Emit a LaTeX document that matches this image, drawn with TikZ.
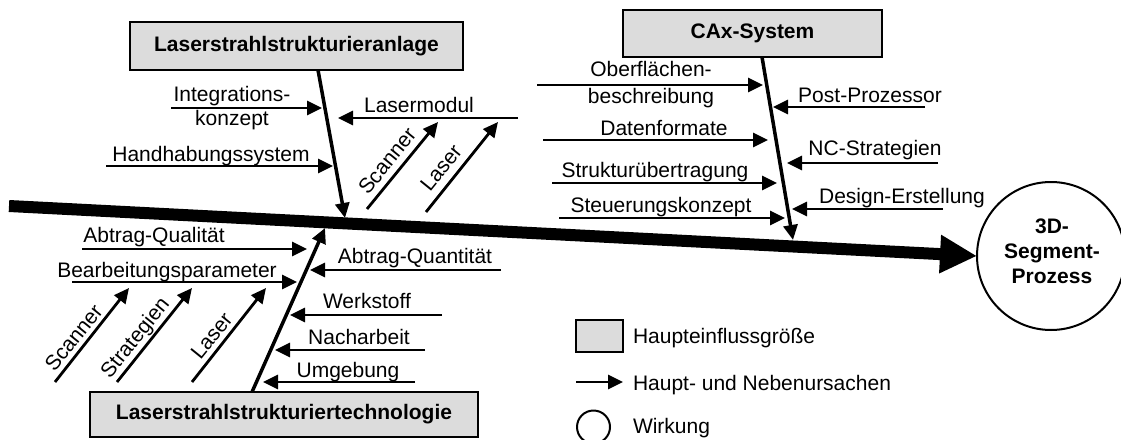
\documentclass[tikz,border=0pt]{standalone}
\usepackage{fontspec}
\setmainfont{Liberation Sans}
\usetikzlibrary{arrows.meta}
\definecolor{boxgray}{RGB}{220,220,220}
\begin{document}
\begin{tikzpicture}[x=1pt,y=-1pt,
  every node/.style={inner sep=0pt, outer sep=0pt, font=\fontsize{21}{24}\selectfont},
  lbl/.style={anchor=base},
  hbox/.style={draw, line width=2pt, fill=boxgray, font=\fontsize{21}{24}\selectfont\bfseries},
  spine/.style={line width=12pt, -{Triangle[length=37pt,width=36pt]}},
  bone/.style={line width=3.5pt, -{Triangle[length=15pt,width=14pt]}},
  twig/.style={line width=2.8pt, -{Triangle[length=15pt,width=14pt]}},
]
\useasboundingbox (0,0) rectangle (1121,439);

% effect
\node[draw, circle, line width=2pt, minimum size=148pt] (eff) at (1051,256) {};
\node[align=center, font=\fontsize{21}{25}\selectfont\bfseries] (efftext) at (1052,251) {3D-\\Segment-\\Prozess};

% spine
\coordinate (s0) at (9,206);
\draw[spine] (s0) -- (eff.west);

% ---------- top left: Laserstrahlstrukturieranlage
\node[hbox, minimum width=333pt, minimum height=48pt] (anlage) at (296.5,46) {Laserstrahlstrukturieranlage};
\coordinate (a0) at (318,70); \coordinate (a1) at (345,218);
\draw[bone] (a0) -- (a1);

\node[align=center] (integ) at (232,108.3) {Integrations-\\konzept};
\coordinate (i0) at (171,108); \coordinate (i1) at (322,108);
\draw[twig] (i0) -- (i1);

\node[lbl] (handh) at (211,161.7) {Handhabungssystem};
\coordinate (h0) at (106,166); \coordinate (h1) at (333,166);
\draw[twig] (h0) -- (h1);

\node[lbl] (lmod) at (419,112.3) {Lasermodul};
\coordinate (l0) at (518,118); \coordinate (l1) at (338,118);
\draw[twig] (l0) -- (l1);

\node[rotate=51] (tscan) at (387,161) {Scanner};
\coordinate (ts0) at (367,209); \coordinate (ts1) at (438,122);
\draw[twig] (ts0) -- (ts1);

\node[rotate=51] (tlas) at (441,168) {Laser};
\coordinate (tl0) at (426,212); \coordinate (tl1) at (498,122);
\draw[twig] (tl0) -- (tl1);

% ---------- top right: CAx-System
\node[hbox, minimum width=259pt, minimum height=47pt] (cax) at (752.5,33.5) {CAx-System};
\coordinate (c0) at (762,57); \coordinate (c1) at (793,240);
\draw[bone] (c0) -- (c1);

\node[align=center, font=\fontsize{21}{27}\selectfont] (oberf) at (651,84.5) {Oberflächen-\\beschreibung};
\coordinate (o0) at (537,85); \coordinate (o1) at (763,85);
\draw[twig] (o0) -- (o1);

\node[lbl] (daten) at (664,135) {Datenformate};
\coordinate (d0) at (543,140); \coordinate (d1) at (768,140);
\draw[twig] (d0) -- (d1);

\node[lbl] (struk) at (655,177) {Strukturübertragung};
\coordinate (st0) at (552,183); \coordinate (st1) at (777,183);
\draw[twig] (st0) -- (st1);

\node[lbl] (steu) at (661,212) {Steuerungskonzept};
\coordinate (su0) at (559,218); \coordinate (su1) at (785,218);
\draw[twig] (su0) -- (su1);

\node[lbl] (post) at (870,102) {Post-Prozessor};
\coordinate (p0) at (925,107); \coordinate (p1) at (773,107);
\draw[twig] (p0) -- (p1);

\node[lbl] (ncs) at (875,155) {NC-Strategien};
\coordinate (n0) at (938,163); \coordinate (n1) at (787,163);
\draw[twig] (n0) -- (n1);

\node[lbl] (design) at (902,203) {Design-Erstellung};
\coordinate (de0) at (943,209); \coordinate (de1) at (792,209);
\draw[twig] (de0) -- (de1);

% ---------- bottom: Laserstrahlstrukturiertechnologie
\node[hbox, minimum width=388pt, minimum height=45pt] (techn) at (284,414.5) {Laserstrahlstrukturiertechnologie};
\coordinate (t0) at (252,392); \coordinate (t1) at (325,228);
\draw[bone] (t0) -- (t1);

\node[lbl] (aqual) at (154,242.7) {Abtrag-Qualität};
\coordinate (aq0) at (82,249); \coordinate (aq1) at (307,249);
\draw[twig] (aq0) -- (aq1);

\node[lbl] (bearb) at (167,277) {Bearbeitungsparameter};
\coordinate (bp0) at (72,282); \coordinate (bp1) at (297,282);
\draw[twig] (bp0) -- (bp1);

\node[rotate=51] (bscan) at (73.5,337.5) {Scanner};
\coordinate (bs0) at (55,382); \coordinate (bs1) at (129,288);
\draw[twig] (bs0) -- (bs1);

\node[rotate=51] (bstrat) at (136,338.5) {Strategien};
\coordinate (bg0) at (117,382); \coordinate (bg1) at (192,288);
\draw[twig] (bg0) -- (bg1);

\node[rotate=51] (blas) at (211.5,336) {Laser};
\coordinate (bl0) at (192,382); \coordinate (bl1) at (266,288);
\draw[twig] (bl0) -- (bl1);

\node[lbl] (aquan) at (415,263) {Abtrag-Quantität};
\coordinate (qn0) at (501,270); \coordinate (qn1) at (310,270);
\draw[twig] (qn0) -- (qn1);

\node[lbl] (werk) at (367,308) {Werkstoff};
\coordinate (w0) at (442,315); \coordinate (w1) at (290,315);
\draw[twig] (w0) -- (w1);

\node[lbl] (nach) at (359,344) {Nacharbeit};
\coordinate (na0) at (425,350); \coordinate (na1) at (275,350);
\draw[twig] (na0) -- (na1);

\node[lbl] (umg) at (348,377) {Umgebung};
\coordinate (u0) at (415,382); \coordinate (u1) at (263,382);
\draw[twig] (u0) -- (u1);

% ---------- legend
\node[draw, line width=2pt, fill=boxgray, minimum width=47pt, minimum height=32pt] (lgbox) at (599.5,336) {};
\node[anchor=base west] (lgboxt) at (633,343) {Haupteinflussgröße};
\coordinate (lg0) at (576,382); \coordinate (lg1) at (623,382);
\draw[twig] (lg0) -- (lg1);
\node[anchor=base west] (lgarrt) at (633,390) {Haupt- und Nebenursachen};
\node[draw, circle, line width=2pt, minimum size=33pt] (lgcirc) at (593.5,427) {};
\node[anchor=base west] (lgcirct) at (633,433) {Wirkung};
\end{tikzpicture}
\end{document}
